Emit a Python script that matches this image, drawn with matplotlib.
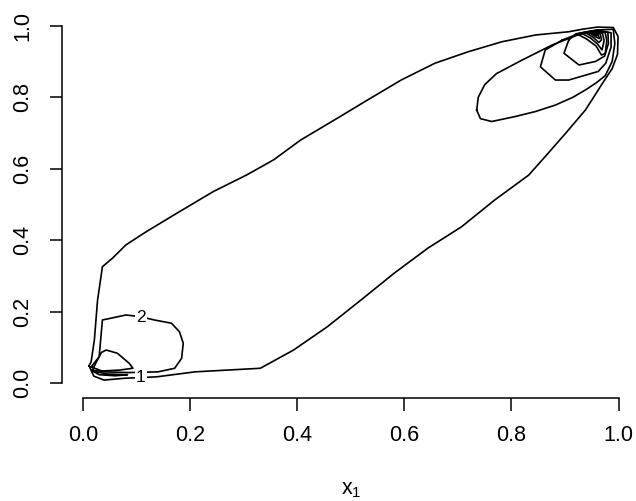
import matplotlib.pyplot as plt

plt.rcParams['font.family'] = ['Liberation Sans', 'DejaVu Sans']
plt.rcParams['mathtext.fontset'] = 'custom'
plt.rcParams['mathtext.rm'] = 'Liberation Sans'

# contour paths (data units)
# level 1: outer contour
lvl1_x = [0.011, 0.015, 0.021, 0.027, 0.033, 0.036, 0.055, 0.080, 0.118, 0.180,
          0.243, 0.306, 0.356, 0.406, 0.469, 0.531, 0.594, 0.657, 0.719, 0.782,
          0.845, 0.907, 0.932, 0.960, 0.990, 0.999, 0.998, 0.988, 0.970, 0.938,
          0.901, 0.863, 0.832, 0.769, 0.707, 0.644, 0.581, 0.519, 0.456, 0.393,
          0.331, 0.209, 0.137, 0.077, 0.039, 0.020, 0.011]
lvl1_y = [0.049, 0.060, 0.121, 0.233, 0.294, 0.326, 0.350, 0.387, 0.424, 0.480,
          0.536, 0.583, 0.625, 0.680, 0.736, 0.792, 0.848, 0.895, 0.927, 0.955,
          0.974, 0.983, 0.990, 0.996, 0.995, 0.970, 0.920, 0.880, 0.839, 0.764,
          0.699, 0.634, 0.582, 0.513, 0.438, 0.378, 0.308, 0.233, 0.158, 0.093,
          0.042, 0.032, 0.018, 0.014, 0.009, 0.020, 0.049]

# level 2: lower-left loop and upper-right loop
lvl2a_x = [0.015, 0.030, 0.036, 0.052, 0.080, 0.108, 0.133, 0.165, 0.180, 0.187,
           0.184, 0.171, 0.140, 0.086, 0.039, 0.015]
lvl2a_y = [0.046, 0.074, 0.177, 0.182, 0.191, 0.186, 0.177, 0.168, 0.144, 0.112,
           0.070, 0.042, 0.032, 0.030, 0.032, 0.046]
lvl2b_x = [0.735, 0.738, 0.750, 0.772, 0.820, 0.876, 0.920, 0.960, 0.990, 0.993,
           0.988, 0.975, 0.958, 0.940, 0.915, 0.882, 0.845, 0.807, 0.763, 0.742,
           0.735]
lvl2b_y = [0.764, 0.800, 0.835, 0.866, 0.904, 0.946, 0.972, 0.988, 0.990, 0.950,
           0.900, 0.860, 0.840, 0.822, 0.800, 0.778, 0.760, 0.746, 0.732, 0.740,
           0.764]

# level 3
lvl3a_x = [0.017, 0.034, 0.043, 0.064, 0.086, 0.093, 0.068, 0.030, 0.017]
lvl3a_y = [0.037, 0.086, 0.093, 0.084, 0.056, 0.042, 0.037, 0.034, 0.037]
lvl3b_x = [0.895, 0.863, 0.854, 0.882, 0.907, 0.939, 0.962, 0.976, 0.986, 0.986,
           0.960, 0.930, 0.895]
lvl3b_y = [0.960, 0.932, 0.885, 0.848, 0.848, 0.862, 0.872, 0.895, 0.940, 0.980,
           0.988, 0.980, 0.960]

# level 4
lvl4a_x = [0.018, 0.045, 0.083, 0.060, 0.030, 0.018]
lvl4a_y = [0.034, 0.026, 0.024, 0.021, 0.024, 0.034]
lvl4b_x = [0.907, 0.898, 0.926, 0.957, 0.974, 0.981, 0.980, 0.950, 0.920, 0.907]
lvl4b_y = [0.960, 0.923, 0.890, 0.900, 0.915, 0.950, 0.982, 0.985, 0.977, 0.960]

# levels 5-9 (the dense peak near the top right corner)
lvl5_x = [0.922, 0.940, 0.958, 0.968, 0.975, 0.978, 0.975, 0.950, 0.922]
lvl5_y = [0.977, 0.963, 0.943, 0.918, 0.922, 0.958, 0.981, 0.984, 0.977]
lvl6_x = [0.932, 0.948, 0.961, 0.969, 0.973, 0.970, 0.950, 0.932]
lvl6_y = [0.978, 0.965, 0.948, 0.932, 0.958, 0.979, 0.982, 0.978]
lvl7_x = [0.940, 0.953, 0.963, 0.968, 0.966, 0.950, 0.940]
lvl7_y = [0.979, 0.967, 0.953, 0.960, 0.977, 0.981, 0.979]
lvl8_x = [0.947, 0.957, 0.964, 0.962, 0.947]
lvl8_y = [0.979, 0.969, 0.964, 0.976, 0.979]
lvl9_x = [0.952, 0.959, 0.961, 0.952]
lvl9_y = [0.978, 0.971, 0.975, 0.978]

paths = [
    (lvl1_x, lvl1_y), (lvl2a_x, lvl2a_y), (lvl2b_x, lvl2b_y),
    (lvl3a_x, lvl3a_y), (lvl3b_x, lvl3b_y), (lvl4a_x, lvl4a_y),
    (lvl4b_x, lvl4b_y), (lvl5_x, lvl5_y), (lvl6_x, lvl6_y),
    (lvl7_x, lvl7_y), (lvl8_x, lvl8_y), (lvl9_x, lvl9_y),
]

# contour labels: text, x, y
label_text = ['1', '2']
label_x = [0.108, 0.108]
label_y = [0.016, 0.184]

ticks = [0.0, 0.2, 0.4, 0.6, 0.8, 1.0]
tick_labels = ['0.0', '0.2', '0.4', '0.6', '0.8', '1.0']

fig = plt.figure(figsize=(6.36, 5.01), dpi=100)
ax = fig.add_axes([0.0970, 0.2064, 0.9093, 0.7709])

for xs, ys in paths:
    ax.plot(xs, ys, color='black', lw=1.2, solid_joinstyle='round')

for t, lx, ly in zip(label_text, label_x, label_y):
    ax.text(lx, ly, t, ha='center', va='center', fontsize=12.5,
            bbox=dict(facecolor='white', edgecolor='none', pad=1.0))

ax.set_xlim(-0.04, 1.04)
ax.set_ylim(-0.04, 1.04)
ax.set_xticks(ticks)
ax.set_xticklabels(tick_labels)
ax.set_yticks(ticks)
ax.set_yticklabels(tick_labels, rotation=90, va='center')

# R style: L-shaped axes that only span the tick range
for side in ('top', 'right'):
    ax.spines[side].set_visible(False)
ax.spines['left'].set_bounds(0, 1)
ax.spines['bottom'].set_bounds(0, 1)
for side in ('left', 'bottom'):
    ax.spines[side].set_linewidth(1.1)
ax.tick_params(direction='out', length=9, width=1.1, labelsize=15.5)
ax.tick_params(axis='x', pad=11)
ax.tick_params(axis='y', pad=11.5)

ax.set_xlabel(r'$\mathregular{x_1}$', fontsize=15.5)
ax.xaxis.set_label_coords(0.5, -0.239)
ax.xaxis.label.set_va('center')

fig.savefig('out.png', dpi=100)
